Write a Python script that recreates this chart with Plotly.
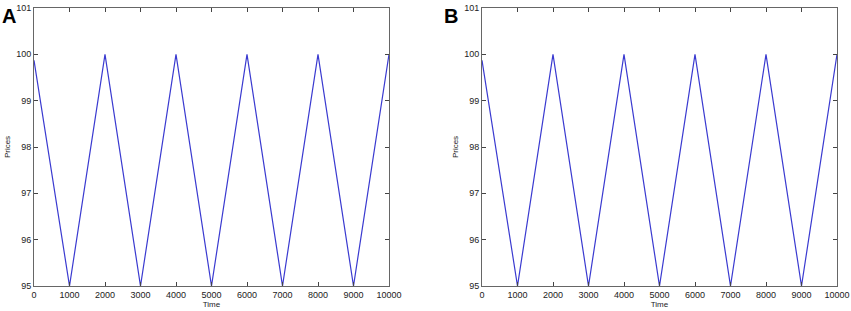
import plotly.graph_objects as go

time_a = [0, 1000, 2000, 3000, 4000, 5000, 6000, 7000, 8000, 9000, 10000]
prices_a = [99.87, 95, 100, 95, 100, 95, 100, 95, 100, 95, 100]
time_b = [0, 1000, 2000, 3000, 4000, 5000, 6000, 7000, 8000, 9000, 10000]
prices_b = [99.87, 95, 100, 95, 100, 95, 100, 95, 100, 95, 100]
x_ticks = [0, 1000, 2000, 3000, 4000, 5000, 6000, 7000, 8000, 9000, 10000]
x_labels = [str(v) for v in x_ticks]
y_ticks = [95, 96, 97, 98, 99, 100, 101]

W, H = 851, 311
fig = go.Figure()
fig.add_trace(go.Scatter(x=time_a, y=prices_a, mode="lines",
                         line=dict(color="#3a3ad0", width=1.2), xaxis="x", yaxis="y"))
fig.add_trace(go.Scatter(x=time_b, y=prices_b, mode="lines",
                         line=dict(color="#3a3ad0", width=1.2), xaxis="x2", yaxis="y2"))

font = dict(family="Liberation Sans, Arial", size=9, color="#222")
tfont = dict(family="Liberation Sans, Arial", size=8, color="#222")
ax_common = dict(showline=True, linecolor="#666", linewidth=1, mirror="ticks",
                 ticks="inside", ticklen=4, tickcolor="#444", showgrid=False,
                 zeroline=False, tickfont=font, automargin=False)
ydom = [25 / H, 303 / H]
fig.update_layout(
    width=W, height=H, margin=dict(l=0, r=0, t=0, b=0, autoexpand=False),
    paper_bgcolor="white", plot_bgcolor="white", showlegend=False,
    xaxis=dict(domain=[34 / W, 389 / W], range=[0, 10000], tickvals=x_ticks, ticktext=x_labels,
               title=dict(text="Time", font=tfont, standoff=1), anchor="y", **ax_common),
    yaxis=dict(domain=ydom, range=[95, 101], tickvals=y_ticks,
               title=dict(text="Prices", font=tfont, standoff=4),
               anchor="x", **ax_common),
    xaxis2=dict(domain=[482 / W, 837 / W], range=[0, 10000], tickvals=x_ticks, ticktext=x_labels,
                title=dict(text="Time", font=tfont, standoff=1), anchor="y2", **ax_common),
    yaxis2=dict(domain=ydom, range=[95, 101], tickvals=y_ticks,
                title=dict(text="Prices", font=tfont, standoff=4),
                anchor="x2", **ax_common),
    annotations=[
        dict(text="<b>A</b>", x=0, y=1 - 3 / H, xref="paper", yref="paper",
             xanchor="left", yanchor="top", showarrow=False,
             font=dict(family="Liberation Sans, Arial", size=20, color="black")),
        dict(text="<b>B</b>", x=442 / W, y=1 - 3 / H, xref="paper", yref="paper",
             xanchor="left", yanchor="top", showarrow=False,
             font=dict(family="Liberation Sans, Arial", size=20, color="black")),
    ],
)
fig.write_html("out.html", config={"displayModeBar": False},
               post_script="document.body.style.margin='0';document.body.style.overflow='hidden';")
